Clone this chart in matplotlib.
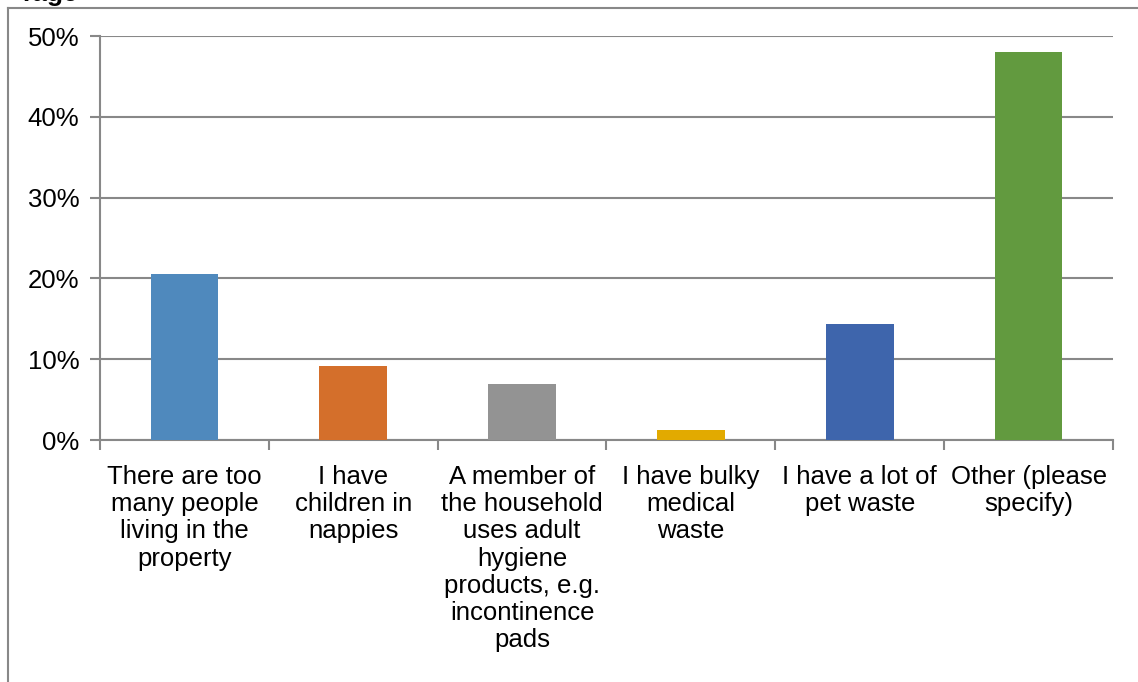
import matplotlib.pyplot as plt
from matplotlib.ticker import FuncFormatter, FixedLocator
from matplotlib.lines import Line2D

categories = [
    "There are too\nmany people\nliving in the\nproperty",
    "I have\nchildren in\nnappies",
    "A member of\nthe household\nuses adult\nhygiene\nproducts, e.g.\nincontinence\npads",
    "I have bulky\nmedical\nwaste",
    "I have a lot of\npet waste",
    "Other (please\nspecify)",
]
values = [0.205, 0.091, 0.069, 0.012, 0.143, 0.480]
colors = ["#4F89BD", "#D46F2B", "#939393", "#E2AA00", "#3E65AC", "#629A3F"]
yticks = [0, 0.1, 0.2, 0.3, 0.4, 0.5]

plt.rcParams['font.family'] = ['Liberation Sans', 'DejaVu Sans']
grey = "#888888"

W, H = 1138, 682
fig = plt.figure(figsize=(W / 100, H / 100), dpi=100)
ax = fig.add_axes([100 / W, 1 - 440 / H, (1113 - 100) / W, (440 - 36) / H])

x = list(range(len(values)))
ax.bar(x, values, width=0.4, color=colors, zorder=3)

ax.set_xlim(-0.5, len(values) - 0.5)
ax.set_ylim(0, 0.5)
ax.set_yticks(yticks)
ax.yaxis.set_major_formatter(FuncFormatter(lambda v, p: f"{v * 100:.0f}%"))
ax.grid(axis='y', color=grey, linewidth=1.5, zorder=0)

ax.set_xticks(x)
ax.set_xticklabels(categories, fontsize=18.5, linespacing=1.17, va='top')
ax.xaxis.set_minor_locator(FixedLocator([i - 0.5 for i in range(len(values) + 1)]))
ax.tick_params(axis='x', which='major', length=0, pad=18)
ax.tick_params(axis='x', which='minor', length=7, width=1.5, color=grey)
ax.tick_params(axis='y', length=7, width=1.5, color=grey, labelsize=18.5, pad=8)

for side in ('top', 'right'):
    ax.spines[side].set_visible(False)
for side in ('left', 'bottom'):
    ax.spines[side].set_color(grey)
    ax.spines[side].set_linewidth(1.5)

# outer chart frame (partially visible)
fig.add_artist(Line2D([8 / W, 8 / W], [0, 1 - 8 / H], color=grey, linewidth=1.5))
fig.add_artist(Line2D([8 / W, 1], [1 - 8 / H, 1 - 8 / H], color=grey, linewidth=1.5))

# cut-off title at the top
fig.text(22 / W, 1 - 1 / H, "rage", fontsize=19, fontweight='bold', va='baseline')

fig.savefig("out.png", dpi=100)
